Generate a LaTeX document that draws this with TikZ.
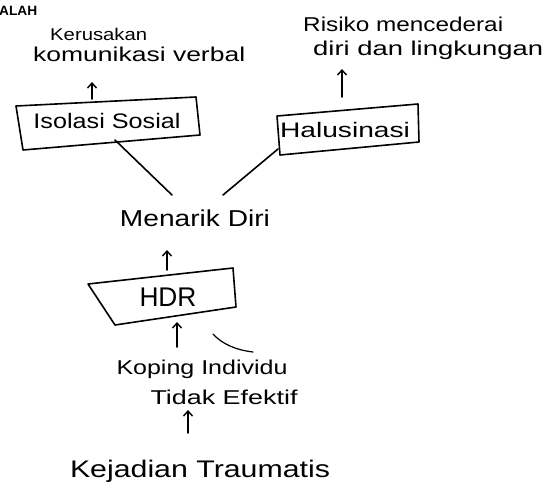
\documentclass[tikz,border=0pt]{standalone}
\usepackage{fontspec}
\usepackage{graphicx}
\setmainfont{Liberation Sans}
\usetikzlibrary{arrows.meta}
\newcommand{\fitw}[2]{\resizebox{#1pt}{\height}{#2}}
\tikzset{
  hand/.style={inner sep=0pt, font=\fontsize{#1}{#1}\selectfont},
  hand/.default=20,
  ink/.style={line width=1.6pt, line cap=round, line join=round},
  arr/.style={ink, -{Straight Barb[length=5pt,width=9pt,line width=1.4pt]}},
}
\begin{document}
\begin{tikzpicture}[x=1pt,y=-1pt]
\useasboundingbox[fill=white] (0,0) rectangle (556,495);
% title fragment
\node[anchor=west, inner sep=0pt, font=\bfseries\fontsize{13.5}{13.5}\selectfont] (title) at (-1,11) {\fitw{38}{ALAH}};
% texts
\node[hand=17, anchor=base west] (kerus) at (50,41) {\fitw{97}{Kerusakan}};
\node[hand=20, anchor=base west] (komun) at (33,61) {\fitw{212}{komunikasi verbal}};
\node[hand=20, anchor=base west] (risiko) at (303,32) {\fitw{200}{Risiko mencederai}};
\node[hand=20, anchor=base west] (risiko2) at (313,56) {\fitw{230}{diri dan lingkungan}};
\node[hand=21] (isol) at (107,121) {\fitw{147}{Isolasi Sosial}};
\node[hand=21] (halu) at (345,130) {\fitw{130}{Halusinasi}};
\node[hand=23] (menarik) at (195,218) {\fitw{150}{Menarik Diri}};
\node[hand=27] (hdr) at (168,297) {\fitw{57}{HDR}};
\node[hand=20] (koping) at (202,369) {\fitw{171}{Koping Individu}};
\node[hand=20] (tidak) at (224,397) {\fitw{147}{Tidak Efektif}};
\node[hand=24] (kejadian) at (200,471) {\fitw{260}{Kejadian Traumatis}};
% boxes
\draw[ink] (16,106) -- (196,97) -- (200,135) -- (23,150) -- cycle;
\draw[ink] (277,116) -- (418,104) -- (419,142) -- (280,155) -- cycle;
\draw[ink] (88,284) -- (233,268) -- (236,307) -- (115,325) -- cycle;
% connectors
\coordinate (isolB) at (115,140);
\coordinate (haluB) at (278,149);
\draw[ink] (isolB) -- (172,195);
\draw[ink] (haluB) -- (223,195);
\draw[arr] (92,99) -- (92,82);
\draw[arr] (342,97) -- (342,69);
\draw[arr] (167,270) -- (167,250);
\draw[arr] (177,347) -- (177,322);
\draw[arr] (188,433) -- (188,410);
\draw[ink, line width=1.2pt] (213,334) .. controls (222,344) and (236,350) .. (253,352);
\end{tikzpicture}
\end{document}
